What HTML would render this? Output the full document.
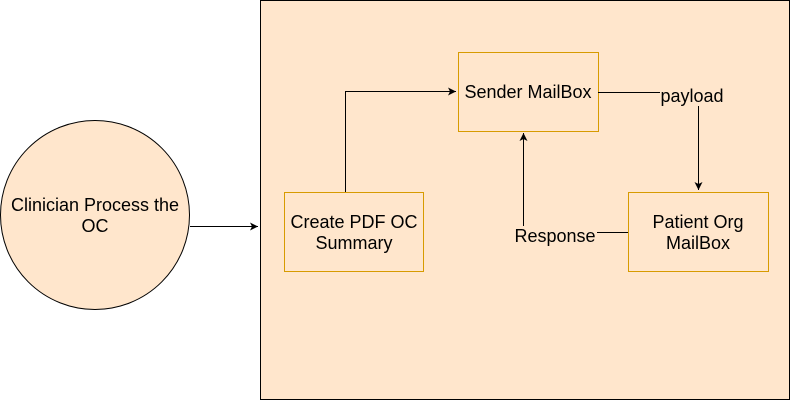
<!DOCTYPE html>
<html><head><meta charset="utf-8"><style>
html,body{margin:0;padding:0;background:#fff;width:791px;height:401px;overflow:hidden}
svg{display:block}
text{font-family:"Liberation Sans",sans-serif;font-size:18px;fill:#000}
</style></head><body>
<svg width="791" height="401" viewBox="0 0 791 401" xmlns="http://www.w3.org/2000/svg">
<defs><marker id="a" markerWidth="10" markerHeight="10" refX="8" refY="5" orient="auto" markerUnits="userSpaceOnUse"><path d="M0,1 L8,5 L0,9 L2,5 Z" fill="#000"/></marker></defs>
<rect x="260.5" y="0.5" width="529" height="399" fill="#ffe6cc" stroke="#000"/>
<circle cx="95" cy="215" r="94.5" fill="#ffe6cc" stroke="#000"/>
<text x="95" y="211" text-anchor="middle">Clinician Process the</text>
<text x="95" y="232" text-anchor="middle">OC</text>
<rect x="458.5" y="52.5" width="140" height="79" fill="#ffe6cc" stroke="#d79b00"/>
<text x="528" y="98" text-anchor="middle">Sender MailBox</text>
<rect x="284.5" y="192.5" width="139" height="79" fill="#ffe6cc" stroke="#d79b00"/>
<text x="354" y="228" text-anchor="middle">Create PDF OC</text>
<text x="354" y="249" text-anchor="middle">Summary</text>
<rect x="628.5" y="192.5" width="140" height="79" fill="#ffe6cc" stroke="#d79b00"/>
<text x="698" y="228" text-anchor="middle">Patient Org</text>
<text x="698" y="249" text-anchor="middle">MailBox</text>
<g fill="none" stroke="#000" stroke-width="1">
<path d="M190 226.5 H258" marker-end="url(#a)"/>
<path d="M345.5 192 V91.5 H456" marker-end="url(#a)"/>
<path d="M598 92.5 H698.5 V190" marker-end="url(#a)"/>
<path d="M628 232.5 H523.5 V133" marker-end="url(#a)"/>
</g>
<rect x="660" y="86" width="66" height="20" fill="#ffe6cc"/>
<text x="692" y="102" text-anchor="middle">payload</text>
<rect x="513" y="226" width="84" height="20" fill="#ffe6cc"/>
<text x="555" y="242" text-anchor="middle">Response</text>
</svg>
</body></html>
